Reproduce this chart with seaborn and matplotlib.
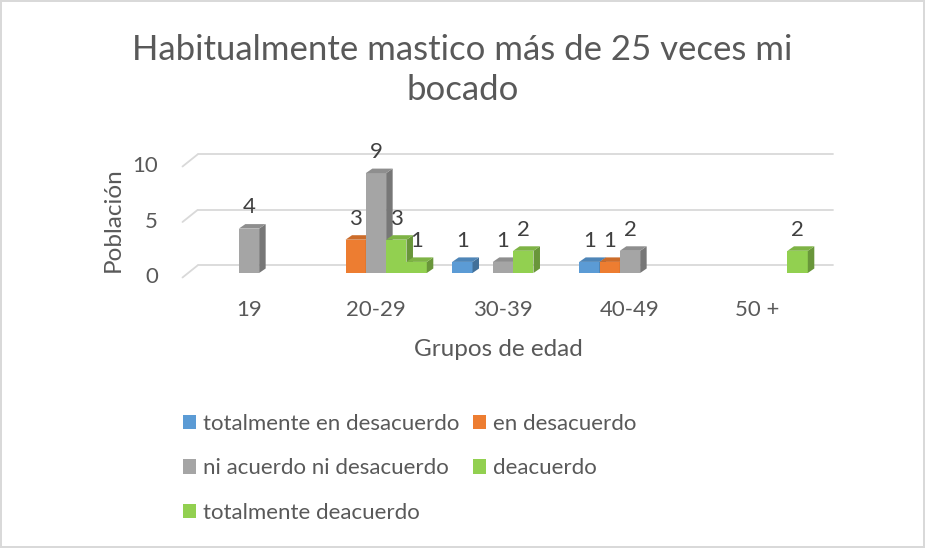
import matplotlib
matplotlib.use("Agg")
import matplotlib.pyplot as plt
import matplotlib.transforms as mtransforms
from matplotlib.patches import Polygon
from matplotlib.colors import to_rgb
import numpy as np
import pandas as pd
import seaborn as sns

# data
grupos = ["19", "20-29", "30-39", "40-49", "50 +"]
respuestas = ["totalmente en desacuerdo", "en desacuerdo",
              "ni acuerdo ni desacuerdo", "deacuerdo", "totalmente deacuerdo"]
tot_desacuerdo = [0, 0, 1, 1, 0]
en_desacuerdo = [0, 3, 0, 1, 0]
ni_ni = [4, 9, 1, 2, 0]
deacuerdo = [0, 3, 2, 0, 0]
tot_deacuerdo = [0, 1, 0, 0, 2]
yticks = [0, 5, 10]

colores = ["#5B9BD5", "#ED7D31", "#A5A5A5", "#92D050", "#92D050"]
TXT = "#595959"
GRID = "#D9D9D9"

series = [tot_desacuerdo, en_desacuerdo, ni_ni, deacuerdo, tot_deacuerdo]
df = pd.DataFrame({
    "grupo": np.tile(grupos, len(respuestas)),
    "respuesta": np.repeat(respuestas, len(grupos)),
    "valor": np.concatenate(series),
})

sns.set_theme(style="white")
plt.rcParams["font.family"] = ["Lato", "DejaVu Sans"]

W, H = 925, 548
fig = plt.figure(figsize=(W / 100, H / 100), dpi=100)
fig.patch.set_edgecolor(GRID)
fig.patch.set_linewidth(1.5)
ax = fig.add_axes([185.5 / W, 1 - 273 / H, 635 / W, 111 / H])

sns.barplot(data=df, x="grupo", y="valor", hue="respuesta", order=grupos,
            hue_order=respuestas, palette=colores, width=0.8, saturation=1,
            errorbar=None, linewidth=0, ax=ax)
handles, labels = ax.get_legend_handles_labels()
ax.get_legend().remove()

ax.set_xlim(-0.5, len(grupos) - 0.5)
ax.set_ylim(0, 10)
for s in ax.spines.values():
    s.set_visible(False)
ax.set_yticks(yticks, labels=[])
ax.tick_params(axis="both", length=0, labelsize=16, labelcolor=TXT)
ax.tick_params(axis="x", pad=19.5)

# y tick labels sit on the front edge of the floor
ylab_tr = mtransforms.blended_transform_factory(ax.transAxes, ax.transData) + \
    mtransforms.ScaledTranslation(-0.275, -0.045, fig.dpi_scale_trans)
for y in yticks:
    ax.text(0, y, str(y), transform=ylab_tr, ha="right", va="center",
            fontsize=16, color=TXT)

ax.set_xlabel("Grupos de edad", fontsize=17.5, color=TXT)
ax.xaxis.set_label_coords(0.492, -0.595)
ax.set_ylabel("Población", fontsize=17.5, color=TXT)
ax.yaxis.set_label_coords(-0.097, 0.477)

# pseudo-3D floor / gridlines (back wall offset)
back = ax.transData + mtransforms.ScaledTranslation(0.12, 0.075, fig.dpi_scale_trans)
front = ax.transData + mtransforms.ScaledTranslation(-0.03, -0.045, fig.dpi_scale_trans)
x_lo, x_hi = ax.get_xlim()
for y in yticks:
    ax.plot([x_lo, x_hi], [y, y], color=GRID, lw=1.3, transform=back,
            zorder=1, clip_on=False)
    p_front = front.transform((x_lo, y))
    p_back = back.transform((x_lo, y))
    ax.plot([p_front[0], p_back[0]], [p_front[1], p_back[1]], color=GRID,
            lw=1.3, transform=mtransforms.IdentityTransform(), zorder=1,
            clip_on=False)

# depth of each bar, in data units
p0 = ax.transData.transform((0, 0))
p1 = ax.transData.transform((1, 1))
ddx = 6.5 / (p1[0] - p0[0])
ddy = 4.5 / (p1[1] - p0[1])


def shade(c, f):
    r, g, b = to_rgb(c)
    return (r * f, g * f, b * f)


for k, cont in enumerate(ax.containers):
    col = colores[k]
    for bar in cont:
        bar.set_zorder(3 + 2 * k)
        h = bar.get_height()
        if h <= 0:
            continue
        x0, w = bar.get_x(), bar.get_width()
        side = [(x0 + w, 0), (x0 + w + ddx, ddy), (x0 + w + ddx, h + ddy), (x0 + w, h)]
        top = [(x0, h), (x0 + ddx, h + ddy), (x0 + w + ddx, h + ddy), (x0 + w, h)]
        ax.add_patch(Polygon(side, closed=True, fc=shade(col, 0.72), ec="none",
                             zorder=4 + 2 * k, clip_on=False))
        ax.add_patch(Polygon(top, closed=True, fc=shade(col, 0.86), ec="none",
                             zorder=4 + 2 * k, clip_on=False))
    vals = [b.get_height() for b in cont]
    txt = ax.bar_label(cont, labels=[str(int(v)) if v > 0 else "" for v in vals],
                       padding=8, fontsize=16, color="#404040")
    for t in txt:
        t.set_zorder(30)
        t.set_clip_on(False)

fig.text(0.5, 1 - 70 / H, "Habitualmente mastico más de 25 veces mi\nbocado",
         ha="center", va="center", fontsize=25, color=TXT, linespacing=1.3)

order = [0, 2, 4, 1, 3]
fig.legend([handles[i] for i in order], [labels[i] for i in order], ncol=2,
           loc="upper left", bbox_to_anchor=(182.5 / W, 1 - 414 / H),
           frameon=False, fontsize=16, labelcolor=TXT, handlelength=0.62,
           handleheight=0.62, handletextpad=0.3, labelspacing=1.1,
           columnspacing=0.6, borderpad=0, borderaxespad=0)

fig.savefig("out.png", dpi=100)
plt.close(fig)
